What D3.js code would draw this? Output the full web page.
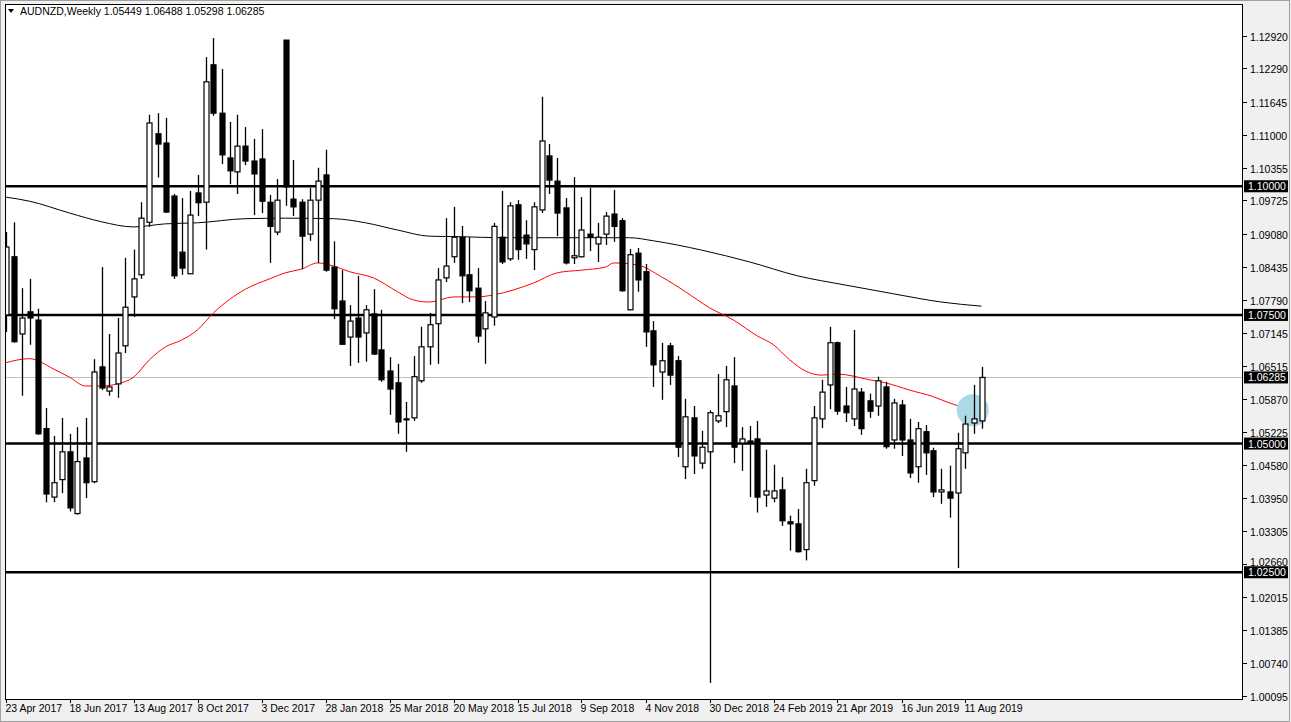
<!DOCTYPE html>
<html><head><meta charset="utf-8">
<script src="https://cdn.jsdelivr.net/npm/d3@7"></script>
<style>body{margin:0;background:#f0f0f0;}svg{display:block;}text{font-family:"Liberation Sans",Arial,sans-serif;font-size:10.5px;}</style>
</head><body><svg id="c" width="1291" height="722"></svg>
<script>
const opens=[1.0750,1.0863,1.0713,1.0756,1.0740,1.0529,1.0396,1.0430,1.0484,1.0364,1.0472,1.0426,1.0649,1.0602,1.0616,1.0690,1.0785,1.0828,1.0930,1.1102,1.1084,1.0981,1.0872,1.0830,1.0987,1.0969,1.1236,1.1142,1.1055,1.1028,1.1078,1.1049,1.1053,1.0969,1.0911,1.1284,1.0975,1.0969,1.0907,1.0973,1.1022,1.0843,1.0777,1.0707,1.0744,1.0715,1.0752,1.0682,1.0641,1.0618,1.0548,1.0550,1.0622,1.0688,1.0733,1.0822,1.0863,1.0901,1.0828,1.0802,1.0723,1.0746,1.0901,1.0859,1.0964,1.0905,1.0877,1.0954,1.1059,1.1010,1.0958,1.0861,1.0863,1.0907,1.0888,1.0907,1.0946,1.0933,1.0760,1.0870,1.0834,1.0719,1.0639,1.0690,1.0661,1.0455,1.0550,1.0462,1.0484,1.0544,1.0562,1.0612,1.0501,1.0505,1.0509,1.0400,1.0394,1.0410,1.0348,1.0344,1.0294,1.0428,1.0548,1.0614,1.0696,1.0573,1.0548,1.0600,1.0583,1.0573,1.0610,1.0507,1.0575,1.0507,1.0455,1.0523,1.0486,1.0406,1.0406,1.0404,1.0482,1.0540,1.0544];
const highs=[1.0911,1.0930,1.0802,1.0820,1.0762,1.0569,1.0515,1.0550,1.0519,1.0532,1.0550,1.0664,1.0843,1.0713,1.0744,1.0861,1.0877,1.0969,1.1139,1.1142,1.1133,1.0985,1.0977,1.0991,1.1022,1.1251,1.1288,1.1228,1.1125,1.1139,1.1115,1.1092,1.1111,1.0983,1.1014,1.1284,1.1051,1.0975,1.0997,1.1036,1.1071,1.0893,1.0837,1.0769,1.0826,1.0769,1.0800,1.0760,1.0668,1.0655,1.0581,1.0670,1.0727,1.0754,1.0841,1.0938,1.0960,1.0923,1.0901,1.0841,1.0777,1.0929,1.0991,1.0969,1.0973,1.0934,1.0969,1.1174,1.1082,1.1055,1.0977,1.1018,1.0979,1.0997,1.0929,1.0950,1.0993,1.0938,1.0878,1.0880,1.0849,1.0738,1.0696,1.0696,1.0670,1.0587,1.0573,1.0525,1.0565,1.0635,1.0651,1.0668,1.0532,1.0534,1.0544,1.0488,1.0459,1.0435,1.0360,1.0373,1.0451,1.0573,1.0624,1.0727,1.0698,1.0610,1.0721,1.0608,1.0597,1.0630,1.0620,1.0587,1.0585,1.0548,1.0542,1.0536,1.0492,1.0451,1.0457,1.0521,1.0554,1.0614,1.0649];
const lows=[1.0717,1.0696,1.0593,1.0692,1.0517,1.0386,1.0386,1.0404,1.0368,1.0362,1.0394,1.0423,1.0604,1.0593,1.0589,1.0676,1.0746,1.0820,1.0921,1.1017,1.0948,1.0820,1.0828,1.0830,1.0942,1.0877,1.1137,1.1043,1.1004,1.0985,1.1041,1.0944,1.0948,1.0851,1.0905,1.0962,1.0942,1.0839,1.0894,1.0851,1.0834,1.0742,1.0692,1.0651,1.0657,1.0659,1.0672,1.0620,1.0556,1.0519,1.0484,1.0544,1.0618,1.0653,1.0655,1.0814,1.0851,1.0773,1.0775,1.0696,1.0655,1.0729,1.0849,1.0855,1.0857,1.0859,1.0837,1.0948,1.0985,1.0903,1.0848,1.0849,1.0862,1.0874,1.0853,1.0886,1.0892,1.0795,1.0759,1.0795,1.0688,1.0610,1.0585,1.0614,1.0474,1.0431,1.0441,1.0451,1.0035,1.0540,1.0532,1.0462,1.0447,1.0396,1.0366,1.0377,1.0386,1.0340,1.0292,1.0288,1.0273,1.0418,1.0530,1.0567,1.0556,1.0542,1.0534,1.0517,1.0550,1.0554,1.0490,1.0490,1.0476,1.0433,1.0424,1.0439,1.0396,1.0383,1.0356,1.0258,1.0451,1.0519,1.0529];
const closes=[1.0882,1.0698,1.0744,1.0744,1.0519,1.0402,1.0424,1.0484,1.0375,1.0465,1.0424,1.0639,1.0608,1.0610,1.0676,1.0765,1.0820,1.0938,1.1123,1.1082,1.0950,1.0826,1.0841,1.0944,1.0968,1.1203,1.1142,1.1061,1.1030,1.1078,1.1049,1.1024,1.0971,1.0922,1.0973,1.0999,1.0960,1.0903,1.0973,1.1010,1.0837,1.0762,1.0693,1.0738,1.0707,1.0760,1.0674,1.0624,1.0606,1.0542,1.0547,1.0630,1.0688,1.0731,1.0818,1.0845,1.0901,1.0826,1.0797,1.0709,1.0754,1.0922,1.0853,1.0962,1.0877,1.0888,1.0960,1.1088,1.1012,1.0948,1.0851,1.0865,1.0915,1.0901,1.0901,1.0942,1.0922,1.0797,1.0867,1.0818,1.0717,1.0653,1.0661,1.0633,1.0493,1.0552,1.0476,1.0493,1.0560,1.0554,1.0624,1.0493,1.0509,1.0501,1.0396,1.0408,1.0408,1.0350,1.0344,1.0290,1.0424,1.0550,1.0600,1.0696,1.0563,1.0560,1.0606,1.0529,1.0563,1.0622,1.0494,1.0579,1.0507,1.0443,1.0529,1.0482,1.0406,1.0410,1.0394,1.0490,1.0538,1.0548,1.06285];
const maFastIdx=[0,3,6,8,10,12,14,16,18,20,22,24,26,30,33,35,37,39,41,43,46,49,51,53,56,59,61,66,69,72,75,76,79,82,85,88,91,94,96,98,100,102,104,108,110,113,116,118,120,122];
const maFastVal=[1.0657,1.0665,1.0645,1.0629,1.0612,1.0612,1.0616,1.0629,1.0663,1.0688,1.0701,1.0721,1.0754,1.0800,1.0820,1.0832,1.0839,1.0851,1.0845,1.0834,1.0822,1.0795,1.0779,1.0775,1.0785,1.0785,1.0789,1.0812,1.0832,1.0837,1.0843,1.0851,1.0847,1.0824,1.0795,1.0764,1.0740,1.0709,1.0692,1.0663,1.0641,1.0633,1.0635,1.0624,1.0618,1.0604,1.0591,1.0579,1.0571,1.0573];
const maSlowIdx=[0,3,8,12,16,20,24,30,35,41,45,49,53,57,62,70,78,81,87,93,99,105,111,117,122];
const maSlowVal=[1.0979,1.0971,1.0948,1.0931,1.0921,1.0927,1.0929,1.0937,1.0938,1.0937,1.0929,1.0915,1.0903,1.0902,1.0900,1.0900,1.0900,1.0894,1.0876,1.0853,1.0826,1.0808,1.0791,1.0775,1.0767];
const levels=[1.1000,1.0750,1.0500,1.0250];
const yTicks=[1.12920,1.12290,1.11645,1.11000,1.10355,1.09725,1.09080,1.08435,1.07790,1.07145,1.06515,1.05870,1.05225,1.04580,1.03950,1.03305,1.02660,1.02015,1.01385,1.00740,1.00095];
const dateLabels=["23 Apr 2017","18 Jun 2017","13 Aug 2017","8 Oct 2017","3 Dec 2017","28 Jan 2018","25 Mar 2018","20 May 2018","15 Jul 2018","9 Sep 2018","4 Nov 2018","30 Dec 2018","24 Feb 2019","21 Apr 2019","16 Jun 2019","11 Aug 2019"];
const lastPrice=1.06285;
const header="AUDNZD,Weekly  1.05449 1.06488 1.05298 1.06285";

const svg=d3.select("#c");
const L=5,R=1243,T=4,B=699;
svg.append("rect").attr("x",L).attr("y",T).attr("width",R-L).attr("height",B-T).attr("fill","#fff");
const y=d3.scaleLinear().domain([1.00095,1.12920]).range([696,36]);
const x=d3.scaleLinear().domain([0,122]).range([5.5,981.5]);
const g=svg.append("g");
svg.append("clipPath").attr("id","cl").append("rect").attr("x",L).attr("y",T).attr("width",R-L).attr("height",B-T);
const p=g.append("g").attr("clip-path","url(#cl)");
p.append("line").attr("x1",L).attr("x2",R).attr("y1",Math.round(y(lastPrice))+0.5).attr("y2",Math.round(y(lastPrice))+0.5).attr("stroke","#c0c0c0");
p.selectAll(".lv").data(levels).join("line").attr("x1",L).attr("x2",R).attr("y1",d=>y(d)).attr("y2",d=>y(d)).attr("stroke","#000").attr("stroke-width",2.5);
const lineGen=d3.line().x(d=>x(d[0])).y(d=>y(d[1])).curve(d3.curveMonotoneX);
p.append("path").attr("d",lineGen(maSlowIdx.map((d,i)=>[d,maSlowVal[i]]))).attr("fill","none").attr("stroke","#000").attr("stroke-width",1);
p.append("path").attr("d",lineGen(maFastIdx.map((d,i)=>[d,maFastVal[i]]))).attr("fill","none").attr("stroke","#f00").attr("stroke-width",1);
p.append("circle").attr("cx",x(120.9)).attr("cy",y(1.0565)).attr("r",16).attr("fill","#add8e6");
const idx=d3.range(opens.length);
const cg=p.append("g");
cg.selectAll(".w").data(idx).join("line").attr("x1",i=>Math.round(x(i))+0.5).attr("x2",i=>Math.round(x(i))+0.5)
 .attr("y1",i=>y(highs[i])).attr("y2",i=>y(lows[i])).attr("stroke","#000").attr("stroke-width",1.3);
cg.selectAll(".b").data(idx).join("rect").attr("x",i=>Math.round(x(i))-2).attr("width",5)
 .attr("y",i=>y(Math.max(opens[i],closes[i]))).attr("height",i=>Math.max(1,Math.abs(y(opens[i])-y(closes[i]))))
 .attr("fill",i=>closes[i]>=opens[i]?"#fff":"#000").attr("stroke","#000").attr("stroke-width",1.2);
svg.append("rect").attr("x",L+0.5).attr("y",T+0.5).attr("width",R-L-1).attr("height",B-T).attr("fill","none").attr("stroke","#000");
svg.append("rect").attr("x",0.5).attr("y",0.5).attr("width",1289).attr("height",721).attr("fill","none").attr("stroke","#a0a0a0");
const ya=svg.append("g");
const labelVals=[...levels,lastPrice];
yTicks.forEach(t=>{const yy=Math.round(y(t))+0.5;
 ya.append("line").attr("x1",R).attr("x2",R+4).attr("y1",yy).attr("y2",yy).attr("stroke","#000");
 const near=labelVals.some(v=>Math.abs(y(v)-yy)<8);
 ya.append("text").attr("x",R+7).attr("y",near?yy+1:yy+4).text(t.toFixed(5));});
labelVals.forEach(v=>{const yy=y(v);
 ya.append("rect").attr("x",R+1).attr("y",yy-6).attr("width",44).attr("height",12).attr("fill","#000");
 ya.append("text").attr("x",R+5).attr("y",yy+4).attr("fill","#fff").text(v.toFixed(5));});
const xa=svg.append("g");
dateLabels.forEach((d,k)=>{const xx=Math.round(x(k*8))+0.5;
 xa.append("line").attr("x1",xx).attr("x2",xx).attr("y1",B).attr("y2",B+4).attr("stroke","#000");
 xa.append("text").attr("x",xx-1).attr("y",B+13).text(d);});
svg.append("path").attr("d","M8,9 L14,9 L11,13 Z").attr("fill","#000");
svg.append("text").attr("x",20).attr("y",15).text(header);
</script></body></html>
